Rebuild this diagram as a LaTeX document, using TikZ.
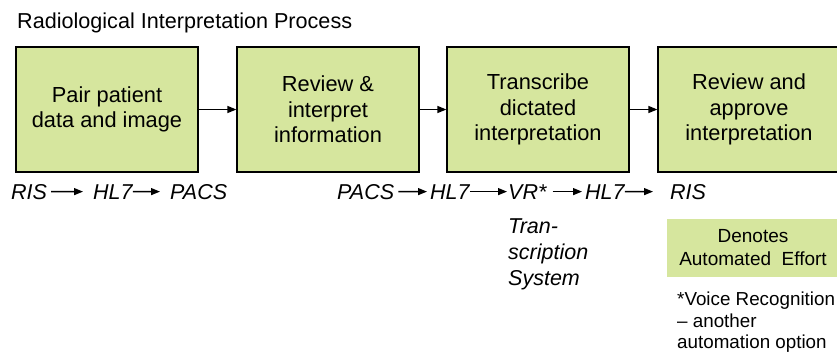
\documentclass[tikz,border=0pt]{standalone}
\usepackage{fontspec}
\setmainfont{Liberation Sans}
\usetikzlibrary{arrows.meta}
\definecolor{boxgreen}{RGB}{214,230,158}
\tikzset{
	procbox/.style={draw, line width=1.2pt, fill=boxgreen, minimum width=182pt, minimum height=125pt, align=center, inner sep=0pt, font=\fontsize{21.8}{25.5}\selectfont},
	flow/.style={line width=1.3pt, -{Triangle[length=9pt,width=7pt]}},
	tag/.style={inner sep=0pt, anchor=base west, font=\fontsize{21.5}{26}\selectfont\itshape}
}
\begin{document}
\begin{tikzpicture}[x=10pt,y=-10pt]
		\useasboundingbox (0,0) rectangle (83.7,35.4);
		% title
			\node[anchor=base west, inner sep=0pt, font=\fontsize{21.6}{24}\selectfont] (title) at (1.7,2.8) {Radiological Interpretation Process};
		% process steps
			\foreach \n/\x/\txt in {1/10.7/{Pair patient\\data and image},2/32.8/{Review \&\\interpret\\information},3/53.8/{Transcribe\\dictated\\interpretation},4/74.9/{Review and\\approve\\interpretation}}{
				\node[procbox] (box\n) at (\x,10.95) {\txt};
				}
			\foreach \a/\b in {1/2,2/3,3/4}{
				\draw[flow] (box\a) -- (box\b);
				}
		% systems under step 1
			\node[tag] (ris1) at (1.1,19.9) {RIS};
			\node[tag] (hl71) at (9.3,19.9) {HL7};
			\node[tag] (pacs1) at (17.0,19.9) {PACS};
			\draw[flow, shorten <=4pt, shorten >=10pt] (ris1) -- (hl71);
			\draw[flow, shorten <=0pt, shorten >=10pt] (hl71) -- (pacs1);
		% systems under steps 2 to 4
			\node[tag] (pacs2) at (33.7,19.9) {PACS};
			\node[tag] (hl72) at (43.0,19.9) {HL7};
			\node[tag] (vr) at (50.8,19.9) {VR*};
			\node[tag] (hl73) at (58.5,19.9) {HL7};
			\node[tag] (ris2) at (67.0,19.9) {RIS};
			\draw[flow, shorten <=4pt, shorten >=3pt] (pacs2) -- (hl72);
			\draw[flow, shorten <=0pt, shorten >=1pt] (hl72) -- (vr);
			\draw[flow, shorten <=6pt, shorten >=3pt] (vr) -- (hl73);
			\draw[flow, shorten <=0pt, shorten >=17pt] (hl73) -- (ris2);
			\node[tag, anchor=north west, align=left] (trans) at (50.8,21.9) {Tran-\\scription\\System};
		% legend
			\node[fill=boxgreen, minimum width=172pt, minimum height=58pt, align=center, font=\fontsize{19}{23}\selectfont] (legend) at (75.3,24.8) {Denotes\\Automated\ \ Effort};
			\node[anchor=north west, inner sep=0pt, align=left, font=\fontsize{18.8}{21.5}\selectfont] (note) at (67.7,29.2) {*Voice Recognition\\– another\\automation option};
	\end{tikzpicture}
\end{document}
